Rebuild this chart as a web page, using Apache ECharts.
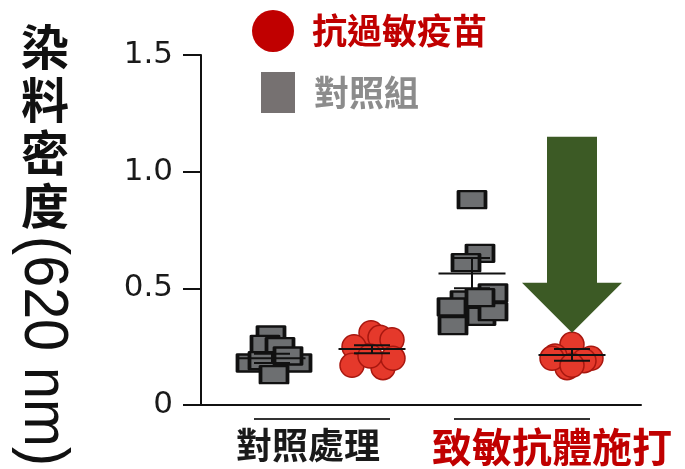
<!DOCTYPE html>
<html><head><meta charset="utf-8">
<script src="https://cdn.jsdelivr.net/npm/echarts@6/dist/echarts.min.js"></script>
<style>html,body{margin:0;padding:0;background:#fff}#c{width:685px;height:469px}</style>
</head><body><div id="c"></div>
<script>
// ---- data ----
const groupNames = ['對照處理', '致敏抗體施打'];
const groupCenters = [1.5, 3.5];
const seriesNames = ['抗過敏疫苗', '對照組'];
const yTicks = [0, 0.5, 1.0, 1.5];
const yTickLabels = ['0', '0.5', '1.0', '1.5'];
const yTitleCJK = ['染', '料', '密', '度'];
const yTitleUnit = '(620 nm)';

// column positions on the x scale
const colCtrlGray = 1, colCtrlRed = 2, colSensGray = 3, colSensRed = 4;

// per-point horizontal jitter (x units) and values
const ctrlGrayOffsets = [-0.01, -0.07, 0.08, -0.21, 0.25, -0.09, 0.16, 0.02];
const ctrlGrayValues  = [0.30, 0.26, 0.25, 0.18, 0.18, 0.19, 0.21, 0.13];
const ctrlRedOffsets  = [-0.01, 0.08, 0.20, -0.18, -0.20, 0.11, 0.21, -0.02];
const ctrlRedValues   = [0.31, 0.29, 0.28, 0.25, 0.17, 0.16, 0.20, 0.21];
const sensGrayOffsets = [0.00, 0.08, -0.06, 0.21, -0.07, -0.20, -0.19, 0.09, 0.21, 0.08];
const sensGrayValues  = [0.88, 0.65, 0.61, 0.48, 0.45, 0.42, 0.34, 0.38, 0.40, 0.46];
const sensRedOffsets  = [0.00, -0.17, 0.19, -0.05, 0.12, -0.20, 0.00];
const sensRedValues   = [0.26, 0.21, 0.20, 0.16, 0.19, 0.20, 0.17];

// mean and SEM per column
const columns  = [colCtrlGray, colCtrlRed, colSensGray, colSensRed];
const means    = [0.20, 0.24, 0.564, 0.214];
const semLow   = [0.18, 0.222, 0.50, 0.19];
const semHigh  = [0.22, 0.256, 0.63, 0.24];
const arrowTipValue = 0.31;

// ---- build ----
function pts(col, offs, vals) { return vals.map((v, i) => [col + offs[i], v]); }
const grayData = pts(colCtrlGray, ctrlGrayOffsets, ctrlGrayValues).concat(pts(colSensGray, sensGrayOffsets, sensGrayValues));
const redData = pts(colCtrlRed, ctrlRedOffsets, ctrlRedValues).concat(pts(colSensRed, sensRedOffsets, sensRedValues));
const statData = columns.map((c, i) => [c, means[i], semLow[i], semHigh[i]]);

const chart = echarts.init(document.getElementById('c'));
const axisCol = '#111';
chart.setOption({
  animation: false,
  backgroundColor: '#fff',
  grid: { left: 201, right: 44, top: 55, bottom: 64 },
  xAxis: {
    type: 'value', min: 0.29, max: 4.69,
    axisLine: { show: true, lineStyle: { color: axisCol, width: 2 } },
    axisTick: { show: false }, axisLabel: { show: false }, splitLine: { show: false }
  },
  yAxis: {
    type: 'value', min: 0, max: 1.5, interval: 0.5,
    axisLine: { show: true, lineStyle: { color: axisCol, width: 2 } },
    axisTick: { show: true, length: 18, lineStyle: { color: axisCol, width: 2 } },
    axisLabel: {
      margin: 28, fontSize: 31, color: '#1a1a1a', fontFamily: 'DejaVu Sans',
      formatter: v => { const i = yTicks.findIndex(t => Math.abs(t - v) < 1e-6); return i >= 0 ? yTickLabels[i] : ''; }
    },
    splitLine: { show: false }
  },
  legend: [
    {
      data: [{ name: seriesNames[0], icon: 'circle', itemStyle: { color: '#c00000', borderWidth: 0 } }],
      left: 252, top: 10, padding: 0, itemWidth: 42, itemHeight: 42, selectedMode: false,
      textStyle: { fontSize: 35, fontWeight: 'bold', color: '#c00000', fontFamily: 'Noto Sans CJK TC', padding: [0, 0, 0, 13] }
    },
    {
      data: [{ name: seriesNames[1], icon: 'rect', itemStyle: { color: '#767171', borderWidth: 0 } }],
      left: 261, top: 72, padding: 0, itemWidth: 34, itemHeight: 41, selectedMode: false,
      textStyle: { fontSize: 35, fontWeight: 'bold', color: '#8c8c8c', fontFamily: 'Noto Sans CJK TC', padding: [0, 0, 0, 14] }
    }
  ],
  series: [
    {
      name: seriesNames[1], type: 'scatter', data: grayData, symbol: 'rect', symbolSize: [27, 17],
      itemStyle: { color: '#6d6f71', borderColor: '#111', borderWidth: 3, borderJoin: 'round', opacity: 1 }, z: 2
    },
    {
      name: seriesNames[0], type: 'scatter', data: redData, symbol: 'circle', symbolSize: 24,
      itemStyle: { color: '#e5392b', borderColor: '#a8170f', borderWidth: 1.5, opacity: 1 }, z: 2
    },
    {
      type: 'custom', data: statData, z: 5, silent: true,
      renderItem: function (params, api) {
        const x = api.value(0);
        const pm = api.coord([x, api.value(1)]);
        const pl = api.coord([x, api.value(2)]);
        const ph = api.coord([x, api.value(3)]);
        const half = api.size([0.335, 0])[0];
        const cap = api.size([0.18, 0])[0];
        const st = { stroke: '#111', lineWidth: 2 };
        return { type: 'group', children: [
          { type: 'line', shape: { x1: pm[0] - half, y1: pm[1], x2: pm[0] + half, y2: pm[1] }, style: st },
          { type: 'line', shape: { x1: pl[0], y1: pl[1], x2: ph[0], y2: ph[1] }, style: st },
          { type: 'line', shape: { x1: pl[0] - cap, y1: pl[1], x2: pl[0] + cap, y2: pl[1] }, style: st },
          { type: 'line', shape: { x1: ph[0] - cap, y1: ph[1], x2: ph[0] + cap, y2: ph[1] }, style: st }
        ]};
      }
    }
  ]
});

// annotations positioned from the scales
const g = [];
const c1 = chart.convertToPixel({ gridIndex: 0 }, [groupCenters[0], 0]);
const c2 = chart.convertToPixel({ gridIndex: 0 }, [groupCenters[1], 0]);
const halfU = chart.convertToPixel({ gridIndex: 0 }, [groupCenters[0] + 0.68, 0])[0] - c1[0];
[c1, c2].forEach(c => g.push({ type: 'line', shape: { x1: c[0] - halfU, y1: c[1] + 14, x2: c[0] + halfU, y2: c[1] + 14 }, style: { stroke: '#333', lineWidth: 2 } }));
g.push({ type: 'text', x: c1[0] - 86, y: c1[1] + 40, style: { text: groupNames[0], fontSize: 36, fontWeight: 'bold', fill: '#1a1a1a', fontFamily: 'Noto Sans CJK TC', verticalAlign: 'middle', align: 'left' } });
g.push({ type: 'text', x: c2[0] - 90, y: c2[1] + 42, style: { text: groupNames[1], fontSize: 40, fontWeight: 'bold', fill: '#c00000', fontFamily: 'Noto Sans CJK TC', verticalAlign: 'middle', align: 'left' } });

// arrow
const tip = chart.convertToPixel({ gridIndex: 0 }, [colSensRed, arrowTipValue]);
const tx = tip[0], ty = tip[1];
g.push({ type: 'polygon', shape: { points: [
  [tx - 25, ty - 196], [tx + 25, ty - 196], [tx + 25, ty - 50], [tx + 50, ty - 50],
  [tx, ty], [tx - 50, ty - 50], [tx - 25, ty - 50]
] }, style: { fill: '#3c5a25' }, z: 10 });

// y-axis title: upright CJK then rotated unit
yTitleCJK.forEach((ch, i) => g.push({ type: 'text', x: 45, y: 47 + i * 53, style: { text: ch, fontSize: 48, fontWeight: 'bold', fill: '#111', fontFamily: 'Noto Sans CJK TC', align: 'center', verticalAlign: 'middle' } }));
g.push({ type: 'text', x: 42, y: 236, rotation: -Math.PI / 2, scaleX: 1.15, scaleY: 1.25, style: { text: yTitleUnit, fontSize: 50, fill: '#111', fontFamily: 'Liberation Sans', align: 'left', verticalAlign: 'middle' } });

chart.setOption({ graphic: g });
</script></body></html>
